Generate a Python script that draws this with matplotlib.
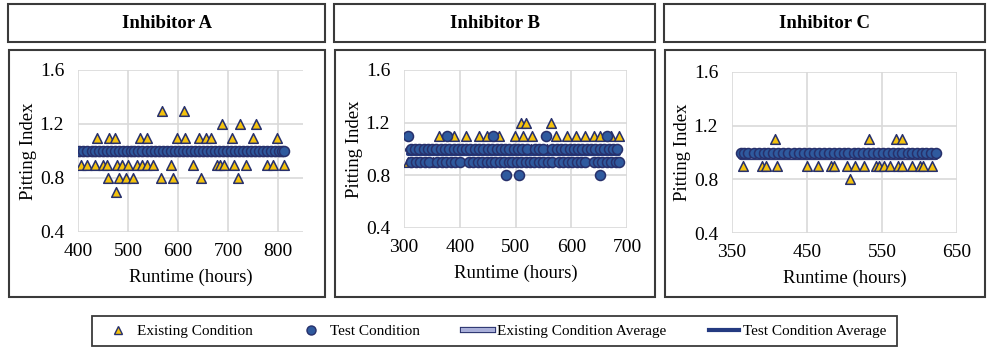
import matplotlib
matplotlib.use("Agg")
import matplotlib.pyplot as plt
import matplotlib.patheffects as pe
from matplotlib.lines import Line2D
from matplotlib.patches import Rectangle

plt.rcParams['font.family'] = ['Liberation Serif', 'DejaVu Serif']

# ---- Inhibitor A ----
a_exist_x = [567, 611,
             688, 723, 756,
             437, 462, 474, 523, 537, 598, 613, 641, 655, 665, 708, 749, 797,
             405, 417, 433, 450, 457, 477, 487, 499, 517, 527, 538, 549, 585, 629,
             678, 683, 691, 711, 736, 778, 790, 811,
             460, 481, 495, 509, 565, 589, 645, 719,
             475]
a_exist_y = [1.3, 1.3,
             1.2, 1.2, 1.2,
             1.1, 1.1, 1.1, 1.1, 1.1, 1.1, 1.1, 1.1, 1.1, 1.1, 1.1, 1.1, 1.1,
             0.9, 0.9, 0.9, 0.9, 0.9, 0.9, 0.9, 0.9, 0.9, 0.9, 0.9, 0.9, 0.9, 0.9,
             0.9, 0.9, 0.9, 0.9, 0.9, 0.9, 0.9, 0.9,
             0.8, 0.8, 0.8, 0.8, 0.8, 0.8, 0.8, 0.8,
             0.7]
a_test_x = [402, 410, 418, 427, 434, 442, 450, 458, 466, 473, 481, 489, 497, 505,
            512, 520, 528, 537, 545, 553, 561, 569, 577, 585, 593, 601, 609, 617,
            625, 633, 641, 650, 658, 666, 674, 681, 689, 697, 705, 713, 721, 729,
            737, 745, 753, 761, 769, 777, 785, 793, 801, 808, 812]
a_test_y = [1.0] * len(a_test_x)
a_exist_avg = 0.98
a_test_avg = 1.0

# ---- Inhibitor B ----
b_exist_x = [509, 518, 563,
             362, 390, 412, 435, 449, 471, 499, 514, 529, 573, 592, 609, 625, 641,
             651, 671, 686,
             379, 527, 557, 655,
             307, 352]
b_exist_y = [1.2, 1.2, 1.2,
             1.1, 1.1, 1.1, 1.1, 1.1, 1.1, 1.1, 1.1, 1.1, 1.1, 1.1, 1.1, 1.1, 1.1,
             1.1, 1.1, 1.1,
             1.0, 1.0, 1.0, 1.0,
             0.9, 0.9]
b_test_hi_x = [308, 377, 459, 555, 665]
b_test_lo_x = [483, 507, 651]
b_test_mid_x = [312, 320, 327, 335, 343, 350, 358, 366, 373, 381, 389, 396, 404,
                412, 419, 427, 435, 442, 450, 458, 466, 474, 481, 489, 497, 504,
                512, 520, 535, 543, 550, 566, 574, 582, 589, 597, 605, 612, 620,
                628, 636, 643, 651, 659, 667, 674, 682]
b_test_low_x = [313, 321, 329, 337, 345, 360, 368, 376, 384, 392, 400, 416, 424,
                432, 440, 448, 456, 464, 472, 480, 488, 494, 502, 510, 518, 526,
                534, 542, 550, 558, 566, 578, 586, 594, 602, 610, 618, 624, 640,
                648, 656, 664, 672, 680, 685]
b_test_x = b_test_hi_x + b_test_lo_x + b_test_mid_x + b_test_low_x
b_test_y = ([1.1] * len(b_test_hi_x) + [0.8] * len(b_test_lo_x)
            + [1.0] * len(b_test_mid_x) + [0.9] * len(b_test_low_x))
b_exist_avg = 0.99
b_test_avg = 0.96

# ---- Inhibitor C ----
c_exist_x = [407, 533, 569, 576,
             378,
             364, 390, 395, 410, 450, 464, 482, 486, 503, 514, 526, 542, 546, 553,
             560, 571, 577, 590, 601, 605, 617,
             507]
c_exist_y = [1.1, 1.1, 1.1, 1.1,
             1.0,
             0.9, 0.9, 0.9, 0.9, 0.9, 0.9, 0.9, 0.9, 0.9, 0.9, 0.9, 0.9, 0.9, 0.9,
             0.9, 0.9, 0.9, 0.9, 0.9, 0.9, 0.9,
             0.8]
c_test_x = [362, 366, 371, 379, 386, 392, 398, 404, 411, 418, 425, 432, 439, 446,
            453, 459, 466, 472, 479, 486, 492, 499, 505, 512, 518, 525, 531, 538,
            545, 551, 558, 564, 571, 577, 584, 590, 597, 603, 609, 615, 622]
c_test_y = [1.0] * len(c_test_x)
c_exist_avg = 0.97
c_test_avg = 0.98

titles = ['Inhibitor A', 'Inhibitor B', 'Inhibitor C']
xlims = [(400, 850), (300, 700), (350, 650)]
xticks = [[400, 500, 600, 700, 800], [300, 400, 500, 600, 700], [350, 450, 550, 650]]
yticks = [0.4, 0.8, 1.2, 1.6]

TRI_FILL = '#f4c20d'
CIRC_FILL = '#2f5a9e'
EDGE = '#27306b'
AVG_EXIST = '#a9afd9'
AVG_TEST = '#243a80'
GRID = '#d9d9d9'

W, H = 990, 352
fig = plt.figure(figsize=(W / 100, H / 100), dpi=100)


def px_box(x0, y0, x1, y1, lw=1.5, color='#3a3a3a'):
    fig.patches.append(Rectangle((x0 / W, 1 - y1 / H), (x1 - x0) / W, (y1 - y0) / H,
                                 transform=fig.transFigure, fill=False,
                                 ec=color, lw=lw))


panels = [
    (a_exist_x, a_exist_y, a_test_x, a_test_y, a_exist_avg, a_test_avg),
    (b_exist_x, b_exist_y, b_test_x, b_test_y, b_exist_avg, b_test_avg),
    (c_exist_x, c_exist_y, c_test_x, c_test_y, c_exist_avg, c_test_avg),
]
axes_px = [(78, 70, 303, 232), (404, 70, 627, 228), (732, 72, 957, 233)]
boxes_x = [(8, 325), (334, 655), (664, 985)]

for i, (ex, ey, tx, ty, e_avg, t_avg) in enumerate(panels):
    l, t, r, b = axes_px[i]
    ax = fig.add_axes([l / W, 1 - b / H, (r - l) / W, (b - t) / H])
    ax.scatter(ex, ey, marker='^', s=48, c=TRI_FILL, edgecolors=EDGE,
               linewidths=1.1, zorder=3)
    xs = min(ex + tx), max(ex + tx)
    ax.plot(xs, [e_avg, e_avg], color=AVG_EXIST, lw=3, solid_capstyle='round', zorder=3.5,
            path_effects=[pe.Stroke(linewidth=4.5, foreground=EDGE), pe.Normal()])
    ax.plot(xs, [t_avg, t_avg], color=AVG_TEST, lw=3, solid_capstyle='round', zorder=3.6)
    ax.scatter(tx, ty, marker='o', s=52, c=CIRC_FILL, edgecolors=EDGE,
               linewidths=1.1, zorder=4)

    ax.set_xlim(*xlims[i])
    ax.set_ylim(0.4, 1.6)
    ax.set_xticks(xticks[i])
    ax.set_yticks(yticks)
    ax.set_yticklabels(['0.4', '0.8', '1.2', '1.6'])
    ax.grid(True, color=GRID, lw=1.2)
    ax.set_axisbelow(True)
    for sp in ax.spines.values():
        sp.set_visible(False)
    ax.tick_params(axis='x', length=0, labelsize=14, pad=8)
    ax.tick_params(axis='y', length=0, labelsize=14, pad=10)
    ax.set_xlabel('Runtime (hours)', fontsize=13.5, labelpad=6)
    ax.set_ylabel('Pitting Index', fontsize=13.5, labelpad=2)

    x0, x1 = boxes_x[i]
    px_box(x0, 4, x1, 42)
    px_box(x0 + 1, 50, x1, 297)
    fig.text((x0 + x1) / 2 / W, 1 - 24 / H, titles[i], ha='center', va='center',
             fontsize=13.5, fontweight='bold')

# legend along the bottom
handles = [
    Line2D([], [], ls='none', marker='^', ms=6, mfc=TRI_FILL, mec=EDGE, mew=1),
    Line2D([], [], ls='none', marker='o', ms=6.5, mfc=CIRC_FILL, mec=EDGE, mew=1),
    Line2D([], [], color=AVG_EXIST, lw=3,
           path_effects=[pe.Stroke(linewidth=4.5, foreground=EDGE), pe.Normal()]),
    Line2D([], [], color=AVG_TEST, lw=3),
]
labels = ['Existing Condition', 'Test Condition', 'Existing Condition Average',
          'Test Condition Average']
leg = fig.legend(handles, labels, loc='center', ncol=4,
                 bbox_to_anchor=(494.5 / W, 1 - 331 / H), frameon=False,
                 fontsize=11, handlelength=2.0, handletextpad=0.25,
                 columnspacing=2.8)
px_box(92, 316, 897, 346, lw=1.3)

fig.savefig('out.png', dpi=100, facecolor='white')
